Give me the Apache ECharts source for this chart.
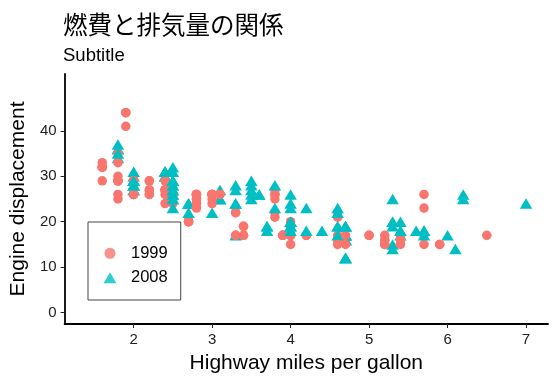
<!DOCTYPE html>
<html>
<head>
<meta charset="utf-8">
<script src="https://cdn.jsdelivr.net/npm/echarts@6/dist/echarts.min.js"></script>
<style>html,body{margin:0;padding:0;background:#fff}#c{width:559px;height:385px}</style>
</head>
<body>
<div id="c"></div>
<script>
const displ = [1.8,1.8,2.0,2.0,2.8,2.8,3.1,1.8,1.8,2.0,2.0,2.8,2.8,3.1,3.1,2.8,3.1,4.2,
5.3,5.3,5.3,5.7,6.0,5.7,5.7,6.2,6.2,7.0,5.3,5.3,5.7,6.5,2.4,2.4,3.1,3.5,3.6,
2.4,3.0,3.3,3.3,3.3,3.3,3.3,3.8,3.8,3.8,4.0,
3.7,3.7,3.9,3.9,4.7,4.7,4.7,5.2,5.2,
3.9,4.7,4.7,4.7,5.2,5.7,5.9,
4.7,4.7,4.7,4.7,4.7,4.7,5.2,5.2,5.7,5.9,
4.6,5.4,5.4,
4.0,4.0,4.0,4.0,4.6,5.0,
4.2,4.2,4.6,4.6,4.6,5.4,5.4,
3.8,3.8,4.0,4.0,4.6,4.6,4.6,4.6,5.4,
1.6,1.6,1.6,1.6,1.6,1.8,1.8,1.8,2.0,
2.4,2.4,2.4,2.4,2.5,2.5,3.3,
2.0,2.0,2.0,2.0,2.7,2.7,2.7,
3.0,3.7,4.0,4.7,4.7,4.7,5.7,6.1,
4.0,4.2,4.4,4.6,
5.4,5.4,5.4,
4.0,4.0,4.6,5.0,
2.4,2.4,2.5,2.5,3.5,3.5,
3.0,3.0,3.5,
3.3,3.3,4.0,5.6,
3.1,3.8,3.8,3.8,5.3,
2.5,2.5,2.5,2.5,2.5,2.5,
2.2,2.2,2.5,2.5,2.5,2.5,2.5,2.5,
2.7,2.7,3.4,3.4,4.0,4.7,
2.2,2.2,2.4,2.4,3.0,3.0,3.5,
2.2,2.2,2.4,2.4,3.0,3.0,3.3,
1.8,1.8,1.8,1.8,1.8,
4.7,5.7,
2.7,2.7,2.7,3.4,3.4,4.0,4.0,
2.0,2.0,2.0,2.0,2.8,
1.9,2.0,2.0,2.0,2.0,2.5,2.5,2.8,2.8,
1.9,1.9,2.0,2.0,2.5,2.5,
1.8,1.8,2.0,2.0,2.8,2.8,3.6];

const hwy = [29,29,31,30,26,26,27,26,25,28,27,25,25,25,25,24,25,23,
20,15,20,17,17,26,23,26,25,24,19,14,15,17,27,30,26,29,26,
24,24,22,22,24,24,17,22,21,23,23,
19,18,17,17,19,19,12,17,15,
17,17,12,17,16,18,15,
16,12,17,17,16,16,15,16,17,15,
17,17,18,
17,19,17,19,19,17,
17,17,16,16,17,15,17,
26,25,26,24,21,22,23,22,20,
33,32,32,29,32,34,36,36,29,
26,27,30,31,26,26,28,
26,29,28,27,24,24,24,
22,19,20,17,12,19,18,14,
15,18,18,15,
17,16,18,
17,19,19,17,
29,27,31,32,27,26,
26,25,25,
17,17,20,18,
26,26,27,28,25,
25,24,27,25,26,23,
26,26,26,26,28,26,27,25,
20,20,19,17,20,19,
27,29,31,31,26,26,28,
27,29,31,31,26,26,27,
30,33,35,37,35,
15,18,
20,20,22,17,19,18,20,
29,26,29,29,24,
44,29,26,29,29,29,29,23,24,
44,41,29,26,28,29,
29,29,29,28,26,26,26];

const year = [1999,1999,2008,2008,1999,1999,2008,1999,1999,2008,2008,1999,1999,2008,2008,1999,2008,2008,
2008,2008,2008,1999,2008,1999,1999,2008,2008,2008,2008,2008,1999,1999,1999,2008,1999,2008,2008,
1999,1999,1999,1999,2008,2008,2008,1999,1999,2008,2008,
2008,2008,1999,1999,2008,2008,2008,1999,1999,
1999,2008,2008,2008,1999,2008,1999,
2008,2008,2008,2008,2008,2008,1999,1999,2008,1999,
1999,1999,2008,
1999,1999,1999,2008,2008,1999,
1999,1999,1999,1999,2008,1999,2008,
1999,1999,2008,2008,1999,1999,2008,2008,2008,
1999,1999,1999,1999,1999,2008,2008,2008,2008,
1999,1999,2008,2008,1999,1999,2008,
1999,1999,2008,2008,2008,2008,2008,
2008,2008,1999,1999,2008,2008,2008,2008,
1999,2008,2008,1999,
1999,1999,2008,
1999,2008,2008,1999,
1999,1999,2008,2008,2008,2008,
1999,1999,2008,
1999,1999,2008,2008,
1999,1999,1999,2008,2008,
1999,1999,2008,2008,2008,2008,
1999,1999,1999,1999,2008,2008,2008,2008,
1999,1999,1999,1999,2008,2008,
1999,1999,2008,2008,1999,1999,2008,
1999,1999,2008,2008,1999,1999,2008,
1999,1999,1999,2008,2008,
1999,2008,
1999,1999,2008,1999,1999,2008,2008,
1999,1999,2008,2008,1999,
1999,1999,1999,2008,2008,2008,2008,1999,1999,
1999,1999,1999,1999,2008,2008,
1999,1999,2008,2008,1999,1999,2008];

const groups = ['1999','2008'];
const xTicks = [2,3,4,5,6,7];
const yTicks = [0,10,20,30,40];
const titleText = '燃費と排気量の関係';
const subtitleText = 'Subtitle';
const xName = 'Highway miles per gallon';
const yName = 'Engine displacement';

const colors = {'1999':'#F8766D','2008':'#00BFC4'};
const symbols = {'1999':'circle','2008':'triangle'};
const sizes = {'1999':9.5,'2008':[12.5,10.5]};

const pts = displ.map((d,i)=>{
  const g = String(year[i]);
  return {value:[d,hwy[i]], symbol:symbols[g], symbolSize:sizes[g], itemStyle:{color:colors[g], opacity:1}};
});

const chart = echarts.init(document.getElementById('c'), null, {renderer:'canvas'});
const font = 'Liberation Sans, Arial, sans-serif';
chart.setOption({
  animation:false,
  backgroundColor:'#fff',
  title:{
    text:titleText, subtext:subtitleText, left:58, top:7, itemGap:10,
    textStyle:{fontFamily:'Noto Sans CJK JP', fontSize:24.5, fontWeight:'normal', color:'#000'},
    subtextStyle:{fontFamily:font, fontSize:18.5, color:'#000'}
  },
  grid:{left:64, right:11, top:74, bottom:61, containLabel:false},
  legend:{
    orient:'vertical', left:88, top:222,
    padding:[22.75,13,13.75,15.5], itemWidth:13, itemHeight:11, itemGap:7.5,
    borderColor:'#444', borderWidth:1,
    textStyle:{fontFamily:font, fontSize:16.5, color:'#000', lineHeight:16.5, padding:[0,0,0,9.5]},
    data:[{name:'1999',icon:'circle'},{name:'2008',icon:'triangle'}]
  },
  xAxis:{
    type:'value', min:1.12, max:7.28,
    name:xName, nameLocation:'middle', nameGap:29,
    nameTextStyle:{fontFamily:font, fontSize:21, color:'#000'},
    axisLine:{show:true, onZero:false, lineStyle:{color:'#000', width:1.8}},
    axisTick:{show:true, length:4, customValues:xTicks, lineStyle:{color:'#222', width:1}},
    axisLabel:{customValues:xTicks, fontFamily:font, fontSize:15, color:'#222', margin:8},
    splitLine:{show:false}
  },
  yAxis:{
    type:'value', min:-2.5, max:52.5,
    name:yName, nameLocation:'middle', nameGap:32,
    nameTextStyle:{fontFamily:font, fontSize:21, color:'#000'},
    axisLine:{show:true, onZero:false, lineStyle:{color:'#000', width:1.8}},
    axisTick:{show:true, length:4, customValues:yTicks, lineStyle:{color:'#222', width:1}},
    axisLabel:{customValues:yTicks, fontFamily:font, fontSize:15, color:'#222', margin:8},
    splitLine:{show:false}
  },
  series:[
    {name:'1999', type:'scatter', data:[], symbol:'circle', itemStyle:{color:colors['1999']}},
    {name:'2008', type:'scatter', data:[], symbol:'triangle', itemStyle:{color:colors['2008']}},
    {name:'points', type:'scatter', data:pts, z:3}
  ]
});
</script>
</body>
</html>
